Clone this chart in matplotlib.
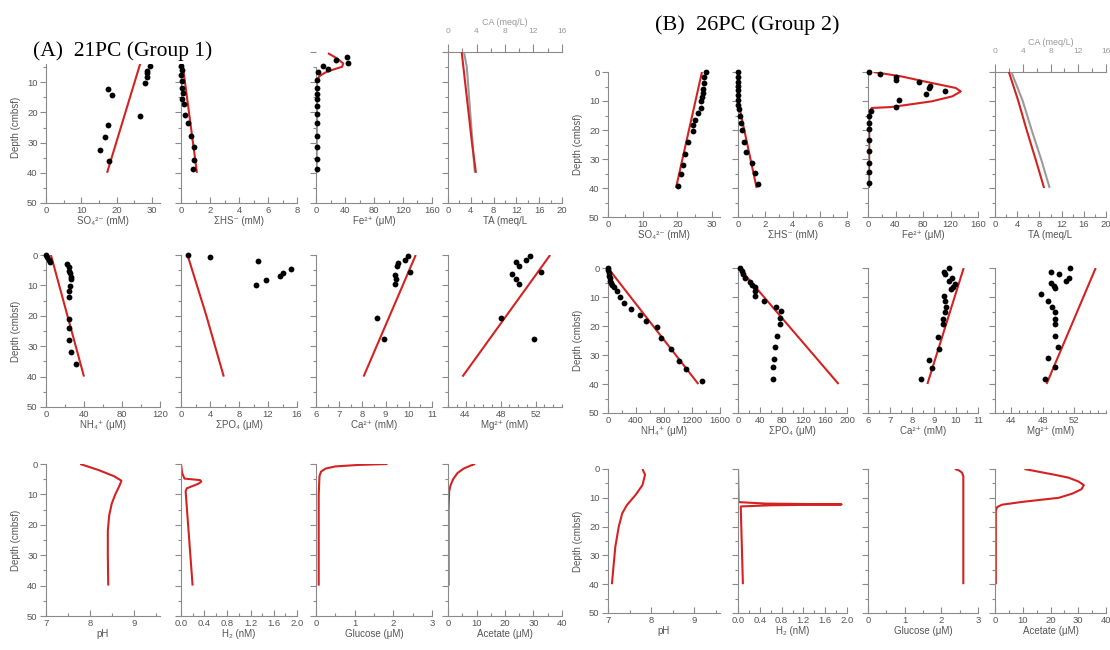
import numpy as np
import matplotlib.pyplot as plt
from matplotlib.patches import Rectangle
from matplotlib.ticker import MultipleLocator, FixedLocator

plt.rcParams['font.family'] = ['Liberation Sans', 'DejaVu Sans']

RED = '#d42222'
GREY_LINE = '#9a9a9a'
AXIS = '#8a8a8a'
TXT = '#555555'

# ---------------- 21PC (Group 1) ----------------
a_so4_d = [4.6, 6.2, 7.1, 8.2, 10.2, 12.1, 14.2, 21.2, 24.3, 28.3, 32.3, 36.2]
a_so4 = [29.4, 28.5, 28.5, 28.5, 28.0, 17.7, 18.6, 26.6, 17.5, 16.8, 15.3, 17.8]
a_so4_md = [0, 40]
a_so4_m = [27.7, 17.3]

a_hs_d = [4.5, 6.0, 7.5, 9.6, 11.8, 13.6, 15.4, 17.3, 20.7, 23.6, 27.7, 31.6, 35.6, 38.7]
a_hs = [0.0, 0.05, 0.0, 0.1, 0.05, 0.15, 0.1, 0.2, 0.3, 0.5, 0.7, 0.9, 0.9, 0.85]
a_hs_md = [0, 40]
a_hs_m = [0.0, 1.1]

a_fe_d = [1.6, 2.7, 3.8, 4.7, 5.7, 6.6, 9.3, 11.8, 13.8, 15.7, 18.0, 20.4, 23.4, 27.7, 31.6, 35.4, 38.8]
a_fe = [43, 27, 44, 10, 17, 3, 1, 1, 1, 1, 1, 1, 1, 1, 1, 1, 1]
a_fe_md = [0.4, 2.1, 3.8, 4.9, 5.8, 6.8, 8.0, 9.6, 40]
a_fe_m = [16.5, 29, 37.5, 36, 24, 12.7, 4.7, 1.0, 0.5]

a_ta_md = [0, 5, 10, 20, 30, 40]
a_ta_m = [2.4, 2.7, 3.0, 3.6, 4.2, 4.9]
a_ca_alk_m = [2.8, 3.3, 3.5, 3.9, 4.3, 4.7]

a_nh4_d = [0, 0.7, 1.5, 2.2, 3.1, 4.1, 5.1, 6.0, 7.1, 7.9, 10.1, 11.9, 13.8, 20.9, 24.0, 27.9, 31.8, 35.8]
a_nh4 = [0, 1, 3, 4, 21.6, 23.7, 24.4, 25.1, 26.1, 26.1, 25.4, 23.7, 23.7, 23.7, 23.7, 24.4, 26.8, 31.3]
a_nh4_md = [0, 40]
a_nh4_m = [5.2, 40]

a_po4_d = [0, 0.8, 1.9, 4.7, 5.8, 6.9, 8.1, 9.9]
a_po4 = [0.9, 4.0, 10.6, 15.2, 14.0, 13.6, 11.7, 10.4]
a_po4_md = [0, 20, 40]
a_po4_m = [0.9, 3.5, 5.9]

a_cal_d = [0.3, 1.7, 2.5, 3.6, 5.5, 6.6, 7.9, 9.6, 20.6, 27.5]
a_cal = [9.97, 9.83, 9.53, 9.5, 10.07, 9.39, 9.46, 9.39, 8.62, 8.93]
a_cal_md = [0, 40]
a_cal_m = [10.3, 8.05]

a_mg_d = [0.3, 1.7, 2.4, 3.6, 5.5, 6.4, 7.9, 9.6, 20.6, 27.5]
a_mg = [51.3, 50.9, 49.7, 50.1, 52.6, 49.3, 49.7, 50.1, 48.0, 51.8]
a_mg_md = [0, 40]
a_mg_m = [53.65, 43.65]

a_ph_md = [0, 2, 4, 5.5, 7, 10, 13, 17, 22, 30, 40]
a_ph_m = [7.78, 8.2, 8.55, 8.72, 8.68, 8.58, 8.5, 8.44, 8.41, 8.41, 8.42]

a_h2_md = [0, 3, 4.8, 5.3, 5.8, 6.5, 8, 9, 40]
a_h2_m = [0.0, 0.02, 0.06, 0.33, 0.35, 0.3, 0.1, 0.08, 0.2]

a_glu_md = [0, 0.3, 0.8, 1.5, 2.5, 4, 10, 40]
a_glu_m = [1.85, 1.1, 0.5, 0.25, 0.13, 0.09, 0.07, 0.07]

a_ace_md = [0, 0.5, 1.5, 3, 5, 7, 9, 15, 40]
a_ace_m = [9.5, 8.0, 5.5, 3.3, 1.8, 0.9, 0.4, 0.2, 0.2]

# ---------------- 26PC (Group 2) ----------------
b_so4_d = [0, 1.7, 3.8, 5.9, 7.3, 8.7, 10.1, 12.4, 14.2, 16.5, 18.4, 20.2, 24.3, 28.3, 32.2, 35.2, 39.2]
b_so4 = [28.3, 27.6, 27.8, 27.3, 27.3, 27.0, 26.7, 26.9, 25.9, 25.2, 24.4, 24.4, 23.0, 22.3, 21.5, 21.0, 20.1]
b_so4_md = [0, 40]
b_so4_m = [27.1, 19.6]

b_hs_d = [0, 1.7, 3.4, 4.8, 6.3, 8.0, 9.8, 11.3, 12.9, 15.3, 17.6, 19.9, 24.2, 27.6, 31.4, 34.9, 38.5]
b_hs = [0.02, 0.02, 0.02, 0.02, 0.02, 0.02, 0.02, 0.02, 0.05, 0.12, 0.25, 0.32, 0.44, 0.62, 1.06, 1.23, 1.47]
b_hs_md = [0, 11, 40]
b_hs_m = [0.02, 0.05, 1.37]

b_fe_d = [0, 0.6, 1.7, 2.6, 3.6, 4.7, 5.5, 6.7, 7.6, 9.6, 11.9, 13.6, 15.3, 17.6, 19.7, 23.3, 27.4, 31.4, 34.6, 38.3]
b_fe = [2, 18, 40, 40, 74, 90, 88, 112, 85, 45, 40, 4, 1, 1, 1, 1, 1, 1, 1, 1]
b_fe_md = [0, 1.5, 3.8, 5.5, 6.7, 8.4, 10.1, 11.3, 12.1, 12.4, 13.6, 40]
b_fe_m = [8, 48, 93, 127.5, 135, 122.6, 93, 57.8, 33, 5.5, 2, 1.5]

b_ta_md = [0, 10, 20, 30, 40]
b_ta_m = [2.5, 4.2, 5.7, 7.3, 8.85]
b_ca_alk_m = [2.95, 5.0, 6.6, 8.3, 9.85]

b_nh4_d = [0, 0.8, 1.6, 2.6, 3.6, 4.4, 5.2, 5.9, 6.4, 7.9, 10.0, 12.0, 14.1, 16.3, 18.2, 20.2, 24.0, 28.1, 32.0, 34.9, 39.0]
b_nh4 = [0, 5, 10, 15, 25, 35, 45, 60, 90, 133, 171, 229, 329, 455, 540, 700, 760, 900, 1010, 1120, 1340]
b_nh4_md = [0, 40]
b_nh4_m = [0, 1290]

b_po4_d = [0, 1.0, 2.2, 3.3, 4.7, 5.9, 6.4, 8.1, 9.5, 11.4, 13.3, 14.8, 17.3, 19.4, 23.3, 27.4, 31.3, 34.3, 38.3]
b_po4 = [3.7, 6.9, 10, 13, 22.4, 25.5, 30.5, 31.8, 31.8, 47.3, 69.8, 78.5, 76.6, 76.6, 72.3, 68, 66, 64.2, 64.2]
b_po4_md = [0, 40]
b_po4_m = [2, 184.5]

b_cal_d = [0, 1.5, 2.2, 3.3, 4.4, 5.4, 6.4, 7.4, 9.5, 11.4, 13.3, 15.2, 17.7, 19.4, 23.7, 27.9, 31.6, 34.6, 38.4]
b_cal = [9.70, 9.45, 9.5, 9.83, 9.70, 9.95, 9.88, 9.76, 9.47, 9.5, 9.55, 9.5, 9.4, 9.4, 9.2, 9.24, 8.79, 8.9, 8.41]
b_cal_md = [0, 40]
b_cal_m = [10.35, 8.7]

b_mg_d = [0, 1.3, 2.2, 3.3, 4.4, 5.3, 6.2, 6.9, 9.0, 11.4, 13.3, 15.2, 17.5, 19.4, 23.3, 27.4, 31.1, 34.3, 38.3]
b_mg = [51.5, 49.05, 50.1, 51.3, 50.9, 49.05, 49.5, 49.6, 47.8, 48.7, 49.2, 49.6, 49.6, 49.6, 49.6, 50.0, 48.7, 49.6, 48.25]
b_mg_md = [0, 40]
b_mg_m = [54.7, 48.5]

b_ph_md = [0, 2, 5.6, 9, 12.5, 15.4, 20, 27, 40]
b_ph_m = [7.8, 7.86, 7.8, 7.64, 7.44, 7.33, 7.25, 7.17, 7.09]

b_h2_md = [0, 11.5, 12.0, 12.3, 12.6, 13.0, 40]
b_h2_m = [0.0, 0.01, 0.5, 1.9, 0.6, 0.05, 0.09]

b_glu_md = [0, 0.5, 1.2, 2.5, 5, 40]
b_glu_m = [2.37, 2.48, 2.56, 2.6, 2.6, 2.6]

b_ace_md = [0, 1, 2, 3, 4.4, 5.6, 7, 8.5, 10, 11.4, 12.4, 13.2, 14.5, 40]
b_ace_m = [10.6, 16, 21.5, 26.5, 30.2, 32, 31.2, 28, 23, 10, 2.5, 0.8, 0.3, 0.3]

W, H = 1110, 650
fig = plt.figure(figsize=(W / 100, H / 100), dpi=100)


def panel(x0, x1, y0, y1, xlim, major, minor, xlabel, first=False, ticks=None):
    ax = fig.add_axes([x0 / W, 1 - y1 / H, (x1 - x0) / W, (y1 - y0) / H])
    ax.set_xlim(*xlim)
    ax.set_ylim(50, 0)
    for s in ('top', 'right'):
        ax.spines[s].set_visible(False)
    for s in ('left', 'bottom'):
        ax.spines[s].set_color(AXIS)
        ax.spines[s].set_linewidth(0.8)
    if ticks is not None:
        ax.set_xticks(ticks)
    else:
        ax.xaxis.set_major_locator(MultipleLocator(major))
    ax.xaxis.set_minor_locator(MultipleLocator(minor))
    ax.yaxis.set_major_locator(MultipleLocator(10))
    ax.yaxis.set_minor_locator(MultipleLocator(5))
    ax.tick_params(which='both', color=AXIS, width=0.8, labelsize=6.8, labelcolor=TXT)
    ax.tick_params(axis='y', which='both', direction='out', pad=2)
    ax.tick_params(axis='x', which='both', direction='in', pad=2)
    ax.tick_params(which='major', length=4)
    ax.tick_params(which='minor', length=2.5)
    ax.set_xlabel(xlabel, fontsize=7, color=TXT, labelpad=1)
    if first:
        ax.set_ylabel('Depth (cmbsf)', fontsize=7, color=TXT, labelpad=4)
    else:
        ax.tick_params(axis='y', labelleft=False)
    return ax


def model(ax, x, d, color=RED):
    ax.plot(x, d, color=color, lw=1.5, zorder=2, solid_capstyle='butt')


def dots(ax, x, d):
    ax.plot(x, d, 'o', color='black', ms=4.2, mew=0, zorder=3, clip_on=False)


def ca_axis(ax):
    sec = ax.secondary_xaxis('top', functions=(lambda v: v * 0.8, lambda v: v / 0.8))
    sec.set_xticks([0, 4, 8, 12, 16])
    sec.xaxis.set_minor_locator(MultipleLocator(2))
    sec.spines['top'].set_color(AXIS)
    sec.spines['top'].set_linewidth(0.8)
    sec.tick_params(which='both', direction='out', color=AXIS, width=0.8,
                    labelsize=6, labelcolor='#999999', pad=7)
    sec.tick_params(which='major', length=5.5)
    sec.tick_params(which='minor', length=3)
    sec.set_xlabel('CA (meq/L)', fontsize=6.5, color='#999999', labelpad=2)


so4_lab = 'SO₄²⁻ (mM)'
hs_lab = 'ΣHS⁻ (mM)'
fe_lab = 'Fe²⁺ (μM)'
ta_lab = 'TA (meq/L'
nh4_lab = 'NH₄⁺ (μM)'
po4_lab = 'ΣPO₄ (μM)'
cal_lab = 'Ca²⁺ (mM)'
mg_lab = 'Mg²⁺ (mM)'
h2_lab = 'H₂ (nM)'

# ----- group 1 layout -----
ax_cols = [(46, 160), (181, 297), (316, 432), (448, 562)]
ax_rows = [(52, 203), (255, 407), (464, 616)]

r = ax_rows[0]
ax = panel(*ax_cols[0], *r, (0, 32.3), 10, 5, so4_lab, first=True)
ax.yaxis.set_major_locator(FixedLocator([10, 20, 30, 40, 50]))
model(ax, a_so4_m, a_so4_md)
dots(ax, a_so4, a_so4_d)
ax = panel(*ax_cols[1], *r, (0, 8), 2, 1, hs_lab)
model(ax, a_hs_m, a_hs_md)
dots(ax, a_hs, a_hs_d)
ax = panel(*ax_cols[2], *r, (0, 160), 40, 20, fe_lab)
ax.spines['left'].set_bounds(50, 5)
model(ax, a_fe_m, a_fe_md)
dots(ax, a_fe, a_fe_d)
ax = panel(*ax_cols[3], *r, (0, 20), 4, 2, ta_lab)
model(ax, a_ca_alk_m, a_ta_md, GREY_LINE)
model(ax, a_ta_m, a_ta_md)
ca_axis(ax)

r = ax_rows[1]
ax = panel(*ax_cols[0], *r, (0, 120), 40, 20, nh4_lab, first=True)
model(ax, a_nh4_m, a_nh4_md)
dots(ax, a_nh4, a_nh4_d)
ax = panel(*ax_cols[1], *r, (0, 16), 4, 2, po4_lab)
model(ax, a_po4_m, a_po4_md)
dots(ax, a_po4, a_po4_d)
ax = panel(*ax_cols[2], *r, (6, 11), 1, 0.5, cal_lab)
model(ax, a_cal_m, a_cal_md)
dots(ax, a_cal, a_cal_d)
ax = panel(*ax_cols[3], *r, (42, 55), 4, 1, mg_lab, ticks=[44, 48, 52])
model(ax, a_mg_m, a_mg_md)
dots(ax, a_mg, a_mg_d)

r = ax_rows[2]
ax = panel(*ax_cols[0], *r, (7, 9.6), 1, 0.5, 'pH', first=True)
model(ax, a_ph_m, a_ph_md)
ax = panel(*ax_cols[1], *r, (0, 2), 0.4, 0.2, h2_lab)
model(ax, a_h2_m, a_h2_md)
ax = panel(*ax_cols[2], *r, (0, 3), 1, 0.5, 'Glucose (μM)')
model(ax, a_glu_m, a_glu_md)
ax = panel(*ax_cols[3], *r, (0, 40), 10, 5, 'Acetate (μM)')
model(ax, a_ace_m, a_ace_md)

# ----- group 2 layout -----
b_cols = [(608, 720), (738, 847), (868, 978), (995, 1106)]
b_rows = [(72, 217), (268, 413), (469, 613)]

r = b_rows[0]
ax = panel(*b_cols[0], *r, (0, 32.3), 10, 5, so4_lab, first=True)
model(ax, b_so4_m, b_so4_md)
dots(ax, b_so4, b_so4_d)
ax = panel(*b_cols[1], *r, (0, 8), 2, 1, hs_lab)
model(ax, b_hs_m, b_hs_md)
dots(ax, b_hs, b_hs_d)
ax = panel(*b_cols[2], *r, (0, 160), 40, 20, fe_lab)
model(ax, b_fe_m, b_fe_md)
dots(ax, b_fe, b_fe_d)
ax = panel(*b_cols[3], *r, (0, 20), 4, 2, ta_lab)
model(ax, b_ca_alk_m, b_ta_md, GREY_LINE)
model(ax, b_ta_m, b_ta_md)
ca_axis(ax)

r = b_rows[1]
ax = panel(*b_cols[0], *r, (0, 1600), 400, 200, nh4_lab, first=True)
model(ax, b_nh4_m, b_nh4_md)
dots(ax, b_nh4, b_nh4_d)
ax = panel(*b_cols[1], *r, (0, 200), 40, 20, po4_lab)
model(ax, b_po4_m, b_po4_md)
dots(ax, b_po4, b_po4_d)
ax = panel(*b_cols[2], *r, (6, 11), 1, 0.5, cal_lab)
model(ax, b_cal_m, b_cal_md)
dots(ax, b_cal, b_cal_d)
ax = panel(*b_cols[3], *r, (42, 56), 4, 1, mg_lab, ticks=[44, 48, 52])
model(ax, b_mg_m, b_mg_md)
dots(ax, b_mg, b_mg_d)

r = b_rows[2]
ax = panel(*b_cols[0], *r, (7, 9.6), 1, 0.5, 'pH', first=True)
model(ax, b_ph_m, b_ph_md)
ax = panel(*b_cols[1], *r, (0, 2), 0.4, 0.2, h2_lab)
model(ax, b_h2_m, b_h2_md)
ax = panel(*b_cols[2], *r, (0, 3), 1, 0.5, 'Glucose (μM)')
model(ax, b_glu_m, b_glu_md)
ax = panel(*b_cols[3], *r, (0, 40), 10, 5, 'Acetate (μM)')
model(ax, b_ace_m, b_ace_md)

# header strip over the top of the first group
fig.add_artist(Rectangle((0, 1 - 64 / H), 300 / W, 34 / H, transform=fig.transFigure,
                         facecolor='white', edgecolor='none', zorder=5))
fig.text(33 / W, 1 - 56 / H, '(A)  21PC (Group 1)', family='Liberation Serif',
         fontsize=15.5, color='black', zorder=6)
fig.text(655 / W, 1 - 30 / H, '(B)  26PC (Group 2)', family='Liberation Serif',
         fontsize=16, color='black', zorder=6)

fig.savefig('out.png', dpi=100)
